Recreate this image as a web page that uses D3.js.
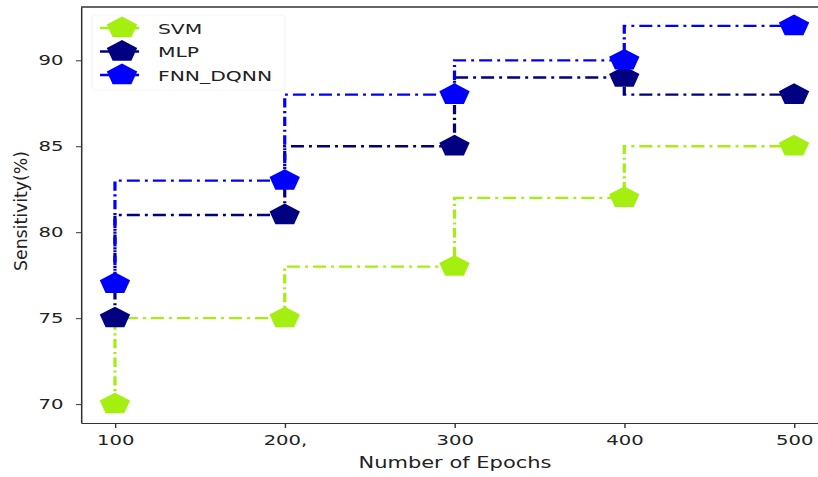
<!DOCTYPE html>
<html>
<head>
<meta charset="utf-8">
<script src="https://cdn.jsdelivr.net/npm/d3@7"></script>
<style>
  body { margin: 0; background: #fff; }
  text { font-family: "DejaVu Sans", sans-serif; fill: #222; }
</style>
</head>
<body>
<div id="chart"></div>
<script>
// data
var epochs = [100, 200, 300, 400, 500];
var xTickLabels = ["100", "200,", "300", "400", "500"];
var yTicks = [70, 75, 80, 85, 90];
var svmValues = [70, 75, 78, 82, 85];
var mlpValues = [75, 81, 85, 89, 88];
var fnnValues = [77, 83, 88, 90, 92];
var seriesNames = ["SVM", "MLP", "FNN_DQNN"];
var seriesColors = ["#a4ef10", "#000080", "#0000ff"];

var svgWidth = 818;
var svgHeight = 477;

// the original picture is stretched sideways, so everything is drawn in a squeezed group
var stretch = 1.4;

var svg = d3.select("#chart")
  .append("svg")
  .attr("width", svgWidth)
  .attr("height", svgHeight);

var g = svg.append("g")
  .attr("transform", `scale(${stretch},1)`);

var xScale = d3.scaleLinear()
  .domain([80, 520])
  .range([81 / stretch, 828 / stretch]);

var yScale = d3.scaleLinear()
  .domain([68.9, 93.1])
  .range([423, 7]);

// axes
var xAxis = d3.axisBottom(xScale)
  .tickValues(epochs)
  .tickFormat((d, i) => xTickLabels[i])
  .tickSize(5)
  .tickPadding(7)
  .tickSizeOuter(0);

var yAxis = d3.axisLeft(yScale)
  .tickValues(yTicks)
  .tickSize(5 / stretch)
  .tickPadding(9)
  .tickSizeOuter(0);

var xg = g.append("g")
  .attr("transform", `translate(0, ${yScale.range()[0]})`)
  .call(xAxis);

var yg = g.append("g")
  .attr("transform", `translate(${xScale.range()[0]}, 0)`)
  .call(yAxis);

[xg, yg].forEach(function(a) {
  a.select(".domain").attr("stroke", "#333").attr("stroke-width", 1.1);
  a.selectAll(".tick line").attr("stroke", "#333").attr("stroke-width", 1);
  a.selectAll(".tick text")
    .style("font-size", "14px")
    .style("font-family", "DejaVu Sans, sans-serif")
    .attr("fill", "#222");
});

// top spine (right spine falls outside the picture)
g.append("line")
  .attr("x1", xScale.range()[0])
  .attr("x2", xScale.range()[1])
  .attr("y1", yScale.range()[1])
  .attr("y2", yScale.range()[1])
  .attr("stroke", "#333")
  .attr("stroke-width", 1.4);

// axis labels
g.append("text")
  .attr("x", 455 / stretch)
  .attr("y", 468)
  .attr("text-anchor", "middle")
  .style("font-size", "15px")
  .text("Number of Epochs");

g.append("text")
  .attr("transform", `translate(${27 / stretch}, 211) rotate(-90)`)
  .attr("text-anchor", "middle")
  .attr("textLength", 120)
  .attr("lengthAdjust", "spacingAndGlyphs")
  .style("font-size", "13px")
  .text("Sensitivity(%)");

// pentagon marker
function pentagon(r) {
  var pts = d3.range(5).map(function(k) {
    var a = -Math.PI / 2 + k * 2 * Math.PI / 5;
    return [r * Math.cos(a), r * Math.sin(a)];
  });
  return "M" + pts.map(p => p.join(",")).join("L") + "Z";
}

var markerPath = pentagon(11.4);
var dash = "9.3,3.6,2.1,3.6";

var allSeries = [svmValues, mlpValues, fnnValues];

var line = d3.line()
  .x((d, i) => xScale(epochs[i]))
  .y(d => yScale(d))
  .curve(d3.curveStepBefore);

allSeries.forEach(function(vals, s) {
  g.append("path")
    .datum(vals)
    .attr("d", line)
    .attr("fill", "none")
    .attr("stroke", seriesColors[s])
    .attr("stroke-width", 2.3)
    .attr("stroke-dasharray", dash);

  g.selectAll(".m" + s)
    .data(vals)
    .enter()
    .append("path")
    .attr("class", "m" + s)
    .attr("d", markerPath)
    .attr("transform", (d, i) => `translate(${xScale(epochs[i])}, ${yScale(d)})`)
    .attr("fill", seriesColors[s]);
});

// legend
var legend = g.append("g");

legend.append("rect")
  .attr("x", 92 / stretch)
  .attr("y", 15)
  .attr("width", 193 / stretch)
  .attr("height", 75)
  .attr("rx", 3)
  .attr("fill", "#fff")
  .attr("fill-opacity", 0.8)
  .attr("stroke", "#f6f6f6");

var legendRows = [28, 51.5, 75];

seriesNames.forEach(function(name, s) {
  var cy = legendRows[s];
  legend.append("line")
    .attr("x1", 100 / stretch)
    .attr("x2", 143 / stretch)
    .attr("y1", cy)
    .attr("y2", cy)
    .attr("stroke", seriesColors[s])
    .attr("stroke-width", 2.3)
    .attr("stroke-dasharray", dash);

  legend.append("path")
    .attr("d", markerPath)
    .attr("transform", `translate(${122 / stretch}, ${cy})`)
    .attr("fill", seriesColors[s]);

  legend.append("text")
    .attr("x", 158 / stretch)
    .attr("y", cy + 6)
    .style("font-size", "14.5px")
    .text(name);
});
</script>
</body>
</html>
